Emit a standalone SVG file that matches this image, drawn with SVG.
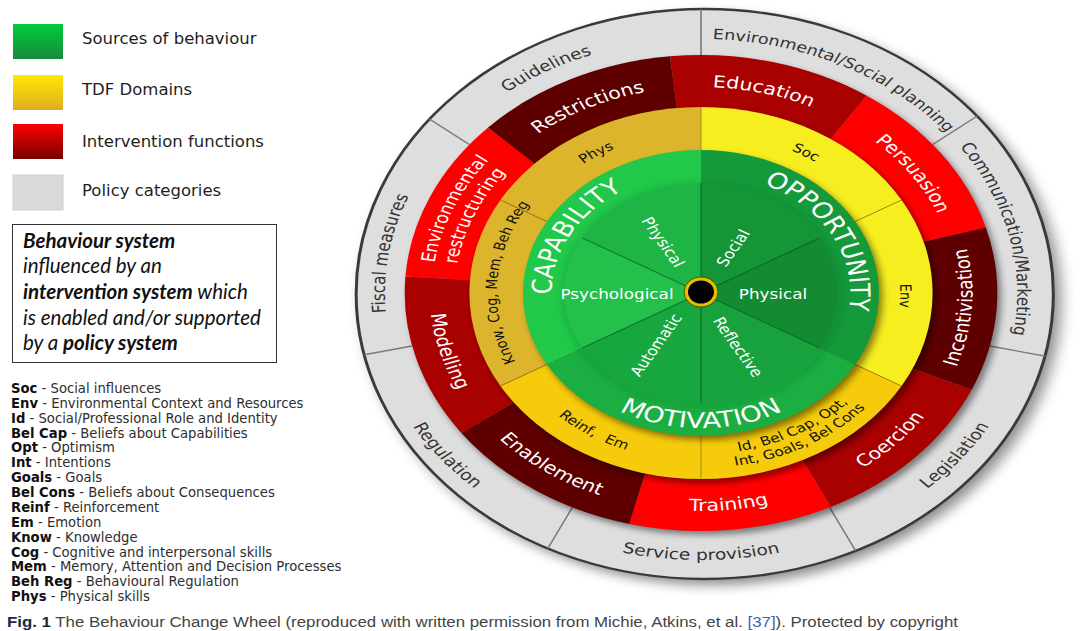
<svg xmlns="http://www.w3.org/2000/svg" width="1091" height="631" viewBox="0 0 1091 631">
<style>
.leg{font-family:"DejaVu Sans",sans-serif;font-size:16.5px;fill:#1e1e1e}
.abbr{font-family:"DejaVu Sans",sans-serif;font-size:13.2px;fill:#2e2e2e}
.k{font-weight:bold;fill:#111}
.box{font-family:Lato,"Liberation Sans",sans-serif;font-size:20.5px;font-style:italic;fill:#111}
.b{font-weight:bold}
.pol{font-family:"DejaVu Sans",sans-serif;font-size:15px;fill:#333}
.ifn{font-family:"DejaVu Sans",sans-serif;font-size:16.5px;fill:#fff}
.ifn2{font-family:"DejaVu Sans",sans-serif;font-size:15.5px;fill:#fff}
.tdf{font-family:"DejaVu Sans",sans-serif;font-size:12.5px;fill:#111}
.src{font-family:"DejaVu Sans",sans-serif;font-size:22px;fill:#fff}
.sub{font-family:"DejaVu Sans",sans-serif;font-size:13.5px;fill:#fff}
.gline{stroke:#7a7a7a;stroke-width:1.3}
.yline{stroke:#7a6a10;stroke-width:0.8;opacity:.7}
.cline{stroke:#0a4a1a;stroke-width:1;opacity:.6}
.shd{fill:#000;opacity:.45}
</style>
<defs>
<linearGradient id="gG" x1="0" y1="0" x2="0" y2="1"><stop offset="0" stop-color="#00cc3c"/><stop offset="1" stop-color="#198a3a"/></linearGradient>
<linearGradient id="gY" x1="0" y1="0" x2="0" y2="1"><stop offset="0" stop-color="#ffe800"/><stop offset="1" stop-color="#dfae22"/></linearGradient>
<linearGradient id="gR" x1="0" y1="0" x2="0" y2="1"><stop offset="0" stop-color="#ff0000"/><stop offset="1" stop-color="#780000"/></linearGradient>
<filter id="blur6" x="-20%" y="-20%" width="140%" height="140%"><feGaussianBlur stdDeviation="6"/></filter>
<filter id="blur3" x="-20%" y="-20%" width="140%" height="140%"><feGaussianBlur stdDeviation="3"/></filter>
<clipPath id="grayClip"><ellipse cx="3" cy="1" rx="280" ry="285"/></clipPath>
<path id="pGuid" d="M-228.3,-111.3 A254,254 0 0 1 26.6,-252.6"/>
<path id="pEnvS" d="M-80.6,-240.9 A254,254 0 0 1 240.9,-80.6"/>
<path id="pComm" d="M135.1,-215.1 A254,254 0 0 1 215.1,135.1"/>
<path id="pFisc" d="M-217.7,130.8 A254,254 0 0 1 -166.6,-191.7"/>
<path id="pLeg" d="M75.8,256 A267,267 0 0 0 266.5,16.3"/>
<path id="pServ" d="M-171.6,204.5 A267,267 0 0 0 171.6,204.5"/>
<path id="pReg" d="M-266.5,16.3 A267,267 0 0 0 -75.8,256"/>
<path id="pRestr" d="M-180.2,-99.9 A206,206 0 0 1 32.2,-203.5"/>
<path id="pEdu" d="M-73.8,-192.3 A206,206 0 0 1 155.5,-135.2"/>
<path id="pPers" d="M70.5,-193.6 A206,206 0 0 1 206,0"/>
<path id="pEnvR1" d="M-206.6,63.2 A216,216 0 0 1 -98.1,-192.5"/>
<path id="pEnvR2" d="M-189.3,57.9 A198,198 0 0 1 -89.9,-176.4"/>
<path id="pInc" d="M156.8,151.4 A218,218 0 0 0 176.4,-128.1"/>
<path id="pCoer" d="M41.6,214 A218,218 0 0 0 215.3,34.1"/>
<path id="pTrain" d="M-105.7,190.7 A218,218 0 0 0 143,164.5"/>
<path id="pEnab" d="M-204.9,74.6 A218,218 0 0 0 0,218"/>
<path id="pMod" d="M-206.1,-71 A218,218 0 0 0 -137.2,169.4"/>
<path id="pPhys" d="M-139.9,-77.6 A160,160 0 0 1 -2.8,-160"/>
<path id="pSoc" d="M2.8,-160 A160,160 0 0 1 139.9,-77.6"/>
<path id="pEnvT" d="M139.9,-77.6 A160,160 0 0 1 137.2,82.4"/>
<path id="pKnow" d="M-113.9,118 A164,164 0 0 1 -96.4,-132.7"/>
<path id="pReinf" d="M-148.3,78.9 A168,168 0 0 0 -5.9,167.9"/>
<path id="pId1" d="M-16.8,160.1 A161,161 0 0 0 144.7,70.6"/>
<path id="pId2" d="M-18.3,174 A175,175 0 0 0 157.3,76.7"/>
<path id="pCap" d="M-115.4,33.1 A120,120 0 0 1 -33.1,-115.4"/>
<path id="pOpp" d="M23.9,-117.6 A120,120 0 0 1 111.6,44"/>
<path id="pMot" d="M-95.5,95.5 A135,135 0 0 0 95.5,95.5"/>
</defs>

<rect width="1091" height="631" fill="#fff"/>

<g id="legend">
<g id="leg-sources"><rect x="13" y="24" width="50" height="35" fill="url(#gG)"/><text class="leg" x="82" y="44">Sources of behaviour</text></g>
<g id="leg-tdf"><rect x="13" y="75" width="50" height="35" fill="url(#gY)"/><text class="leg" x="82" y="95">TDF Domains</text></g>
<g id="leg-interv"><rect x="13" y="124" width="50" height="35" fill="url(#gR)"/><text class="leg" x="82" y="147">Intervention functions</text></g>
<g id="leg-policy"><rect x="13" y="175" width="50" height="35" fill="#dadada" stroke="#cfcfcf"/><text class="leg" x="82" y="196">Policy categories</text></g>
</g>

<g id="info-box">
<rect x="12.5" y="224.5" width="264" height="138" fill="#fff" stroke="#333" stroke-width="1"/>
<text class="box" x="23" y="248"><tspan class="b">Behaviour system</tspan></text>
<text class="box" x="23" y="273">influenced by an</text>
<text class="box" x="23" y="299"><tspan class="b">intervention system</tspan> which</text>
<text class="box" x="23" y="325">is enabled and/or supported</text>
<text class="box" x="23" y="350">by a <tspan class="b">policy system</tspan></text>
</g>

<g id="abbreviations" class="abbr">
<text x="11" y="393"><tspan class="k">Soc</tspan> - Social influences</text>
<text x="11" y="407.9"><tspan class="k">Env</tspan> - Environmental Context and Resources</text>
<text x="11" y="422.7"><tspan class="k">Id</tspan> - Social/Professional Role and Identity</text>
<text x="11" y="437.6"><tspan class="k">Bel Cap</tspan> - Beliefs about Capabilities</text>
<text x="11" y="452.4"><tspan class="k">Opt</tspan> - Optimism</text>
<text x="11" y="467.3"><tspan class="k">Int</tspan> - Intentions</text>
<text x="11" y="482.2"><tspan class="k">Goals</tspan> - Goals</text>
<text x="11" y="497"><tspan class="k">Bel Cons</tspan> - Beliefs about Consequences</text>
<text x="11" y="511.9"><tspan class="k">Reinf</tspan> - Reinforcement</text>
<text x="11" y="526.7"><tspan class="k">Em</tspan> - Emotion</text>
<text x="11" y="541.6"><tspan class="k">Know</tspan> - Knowledge</text>
<text x="11" y="556.5"><tspan class="k">Cog</tspan> - Cognitive and interpersonal skills</text>
<text x="11" y="571.3"><tspan class="k">Mem</tspan> - Memory, Attention and Decision Processes</text>
<text x="11" y="586.2"><tspan class="k">Beh Reg</tspan> - Behavioural Regulation</text>
<text x="11" y="601"><tspan class="k">Phys</tspan> - Physical skills</text>
</g>

<g id="wheel" transform="translate(701,293) scale(1.245,1)">
 <g id="policy-ring">
  <ellipse cx="9" cy="7" rx="280" ry="285" fill="#000" opacity=".45" filter="url(#blur6)"/>
  <ellipse cx="3" cy="1" rx="280" ry="285" fill="#dedede" stroke="#3a3a3a" stroke-width="2.4"/>
 </g>
 <g id="connectors">
  <g clip-path="url(#grayClip)">
   <line class="gline" x1="0" y1="-238" x2="0" y2="-292"/>
   <line class="gline" x1="186.1" y1="-148.4" x2="228.2" y2="-182"/>
   <line class="gline" x1="232" y1="53" x2="284.6" y2="65"/>
   <line class="gline" x1="103.3" y1="214.4" x2="126.7" y2="263"/>
   <line class="gline" x1="-103.3" y1="214.4" x2="-126.7" y2="263"/>
   <line class="gline" x1="-232" y1="53" x2="-284.6" y2="65"/>
   <line class="gline" x1="-186.1" y1="-148.4" x2="-228.2" y2="-182"/>
  </g>
 </g>
 <g id="pol-guidelines"><text class="pol" text-anchor="middle"><textPath href="#pGuid" startOffset="50%">Guidelines</textPath></text></g>
 <g id="pol-envsocial"><text class="pol" text-anchor="middle" style="font-size:14.2px"><textPath href="#pEnvS" startOffset="50%">Environmental/Social planning</textPath></text></g>
 <g id="pol-communication"><text class="pol" text-anchor="middle"><textPath href="#pComm" startOffset="50%">Communication/Marketing</textPath></text></g>
 <g id="pol-legislation"><text class="pol" text-anchor="middle"><textPath href="#pLeg" startOffset="50%">Legislation</textPath></text></g>
 <g id="pol-service"><text class="pol" text-anchor="middle"><textPath href="#pServ" startOffset="50%">Service provision</textPath></text></g>
 <g id="pol-regulation"><text class="pol" text-anchor="middle"><textPath href="#pReg" startOffset="50%">Regulation</textPath></text></g>
 <g id="pol-fiscal"><text class="pol" text-anchor="middle"><textPath href="#pFisc" startOffset="50%">Fiscal measures</textPath></text></g>

 <circle class="shd" cx="3" cy="4" r="238" filter="url(#blur3)"/>
 <g id="if-restrictions"><path d="M0,0 L-171.2,-165.3 A238,238 0 0 1 -24.9,-236.7 Z" fill="#5e0000"/><text class="ifn" text-anchor="middle"><textPath href="#pRestr" startOffset="50%">Restrictions</textPath></text></g>
 <g id="if-education"><path d="M0,0 L-24.9,-236.7 A238,238 0 0 1 133.1,-197.3 Z" fill="#a90000"/><text class="ifn" text-anchor="middle"><textPath href="#pEdu" startOffset="50%">Education</textPath></text></g>
 <g id="if-persuasion"><path d="M0,0 L133.1,-197.3 A238,238 0 0 1 228.8,-65.6 Z" fill="#fe0000"/><text class="ifn" text-anchor="middle"><textPath href="#pPers" startOffset="50%">Persuasion</textPath></text></g>
 <g id="if-incentivisation"><path d="M0,0 L228.8,-65.6 A238,238 0 0 1 217.4,96.8 Z" fill="#5e0000"/><text class="ifn" text-anchor="middle"><textPath href="#pInc" startOffset="50%">Incentivisation</textPath></text></g>
 <g id="if-coercion"><path d="M0,0 L217.4,96.8 A238,238 0 0 1 104.3,213.9 Z" fill="#a90000"/><text class="ifn" text-anchor="middle"><textPath href="#pCoer" startOffset="50%">Coercion</textPath></text></g>
 <g id="if-training"><path d="M0,0 L104.3,213.9 A238,238 0 0 1 -57.6,230.9 Z" fill="#fe0000"/><text class="ifn" text-anchor="middle"><textPath href="#pTrain" startOffset="50%">Training</textPath></text></g>
 <g id="if-enablement"><path d="M0,0 L-57.6,230.9 A238,238 0 0 1 -192.5,139.9 Z" fill="#5e0000"/><text class="ifn" text-anchor="middle"><textPath href="#pEnab" startOffset="50%">Enablement</textPath></text></g>
 <g id="if-modelling"><path d="M0,0 L-192.5,139.9 A238,238 0 0 1 -237.4,-16.6 Z" fill="#a90000"/><text class="ifn" text-anchor="middle"><textPath href="#pMod" startOffset="50%">Modelling</textPath></text></g>
 <g id="if-envrestructuring"><path d="M0,0 L-237.4,-16.6 A238,238 0 0 1 -171.2,-165.3 Z" fill="#fe0000"/><text class="ifn2" text-anchor="middle"><textPath href="#pEnvR1" startOffset="50%">Environmental</textPath></text><text class="ifn2" text-anchor="middle"><textPath href="#pEnvR2" startOffset="50%">restructuring</textPath></text></g>

 <circle class="shd" cx="3" cy="4" r="186" filter="url(#blur3)"/>
 <g id="tdf-phys"><path d="M0,0 L-161.1,-93 A186,186 0 0 1 0,-186 Z" fill="#ddb52c"/><text class="tdf" text-anchor="middle"><textPath href="#pPhys" startOffset="50%">Phys</textPath></text></g>
 <g id="tdf-soc"><path d="M0,0 L0,-186 A186,186 0 0 1 161.1,-93 Z" fill="#f7ee20"/><text class="tdf" text-anchor="middle"><textPath href="#pSoc" startOffset="50%">Soc</textPath></text></g>
 <g id="tdf-env"><path d="M0,0 L161.1,-93 A186,186 0 0 1 161.1,93 Z" fill="#f7ee20"/><text class="tdf" text-anchor="middle"><textPath href="#pEnvT" startOffset="50%">Env</textPath></text></g>
 <g id="tdf-id"><path d="M0,0 L161.1,93 A186,186 0 0 1 0,186 Z" fill="#f5cb0b"/><text class="tdf" text-anchor="middle"><textPath href="#pId1" startOffset="50%">Id, Bel Cap, Opt,</textPath></text><text class="tdf" text-anchor="middle"><textPath href="#pId2" startOffset="50%">Int, Goals, Bel Cons</textPath></text></g>
 <g id="tdf-reinf"><path d="M0,0 L0,186 A186,186 0 0 1 -161.1,93 Z" fill="#f5cb0b"/><text class="tdf" text-anchor="middle" style="word-spacing:5px"><textPath href="#pReinf" startOffset="50%">Reinf, Em</textPath></text></g>
 <g id="tdf-know"><path d="M0,0 L-161.1,93 A186,186 0 0 1 -161.1,-93 Z" fill="#ddb52c"/><text class="tdf" text-anchor="middle"><textPath href="#pKnow" startOffset="50%">Know, Cog, Mem, Beh Reg</textPath></text></g>
 <g id="tdf-lines">
  <line class="yline" x1="0" y1="-143" x2="0" y2="-186"/>
  <line class="yline" x1="123.8" y1="-71.5" x2="161.1" y2="-93"/>
  <line class="yline" x1="123.8" y1="71.5" x2="161.1" y2="93"/>
  <line class="yline" x1="0" y1="143" x2="0" y2="186"/>
  <line class="yline" x1="-123.8" y1="71.5" x2="-161.1" y2="93"/>
  <line class="yline" x1="-123.8" y1="-71.5" x2="-161.1" y2="-93"/>
 </g>

 <circle class="shd" cx="3" cy="4" r="143" filter="url(#blur3)"/>
 <g id="src-capability"><path d="M0,0 L-123.8,71.5 A143,143 0 0 1 0,-143 Z" fill="#21c84a"/><text class="src" text-anchor="middle"><textPath href="#pCap" startOffset="50%">CAPABILITY</textPath></text></g>
 <g id="src-opportunity"><path d="M0,0 L0,-143 A143,143 0 0 1 123.8,71.5 Z" fill="#159a3b"/><text class="src" text-anchor="middle"><textPath href="#pOpp" startOffset="50%">OPPORTUNITY</textPath></text></g>
 <g id="src-motivation"><path d="M0,0 L123.8,71.5 A143,143 0 0 1 -123.8,71.5 Z" fill="#1bae42"/><text class="src" text-anchor="middle"><textPath href="#pMot" startOffset="50%">MOTIVATION</textPath></text></g>

 <circle cx="1.5" cy="2" r="111" fill="none" stroke="#0a5a20" stroke-width="3" opacity=".35" filter="url(#blur3)"/>
 <g id="sub-physical-cap"><path d="M0,0 L-95.3,-55 A110,110 0 0 1 0,-110 Z" fill="#1fb546"/><text class="sub" text-anchor="middle" dy=".35em" transform="translate(-30.5,-51) rotate(60)">Physical</text></g>
 <g id="sub-social"><path d="M0,0 L0,-110 A110,110 0 0 1 95.3,-55 Z" fill="#149536"/><text class="sub" text-anchor="middle" dy=".35em" transform="translate(25.7,-45) rotate(-60)">Social</text></g>
 <g id="sub-physical-opp"><path d="M0,0 L95.3,-55 A110,110 0 0 1 95.3,55 Z" fill="#128b33"/><text class="sub" text-anchor="middle" x="57.8" y="6">Physical</text></g>
 <g id="sub-reflective"><path d="M0,0 L95.3,55 A110,110 0 0 1 0,110 Z" fill="#18a23d"/><text class="sub" text-anchor="middle" dy=".35em" transform="translate(29.7,54) rotate(60)">Reflective</text></g>
 <g id="sub-automatic"><path d="M0,0 L0,110 A110,110 0 0 1 -95.3,55 Z" fill="#17a73e"/><text class="sub" text-anchor="middle" dy=".35em" transform="translate(-36.1,52) rotate(-60)">Automatic</text></g>
 <g id="sub-psychological"><path d="M0,0 L-95.3,55 A110,110 0 0 1 -95.3,-55 Z" fill="#23c04b"/><text class="sub" text-anchor="middle" x="-67.5" y="6">Psychological</text></g>
 <g id="sub-lines">
  <line class="cline" x1="0" y1="0" x2="-95.3" y2="-55"/>
  <line class="cline" x1="0" y1="0" x2="95.3" y2="-55"/>
  <line class="cline" x1="0" y1="0" x2="0" y2="-110" opacity=".3"/>
  <line class="cline" x1="0" y1="0" x2="0" y2="110" opacity=".3"/>
  <line class="cline" x1="0" y1="0" x2="95.3" y2="55" opacity=".3"/>
  <line class="cline" x1="0" y1="0" x2="-95.3" y2="55" opacity=".3"/>
 </g>
</g>
<g id="hub">
 <ellipse cx="701" cy="292" rx="17" ry="15" fill="#e2c200" stroke="#5a4a00" stroke-width="1"/>
 <ellipse cx="701" cy="292" rx="13" ry="11.5" fill="#000"/>
</g>

<g id="caption">
<text x="7" y="627" font-family="'Liberation Sans',sans-serif" font-size="15.5" textLength="951" lengthAdjust="spacingAndGlyphs"><tspan font-weight="bold" fill="#1a2a44">Fig. 1</tspan><tspan fill="#444"> The Behaviour Change Wheel (reproduced with written permission from Michie, Atkins, et al. </tspan><tspan fill="#3a5fc0">[37]</tspan><tspan fill="#444">). Protected by copyright</tspan></text>
</g>
</svg>
